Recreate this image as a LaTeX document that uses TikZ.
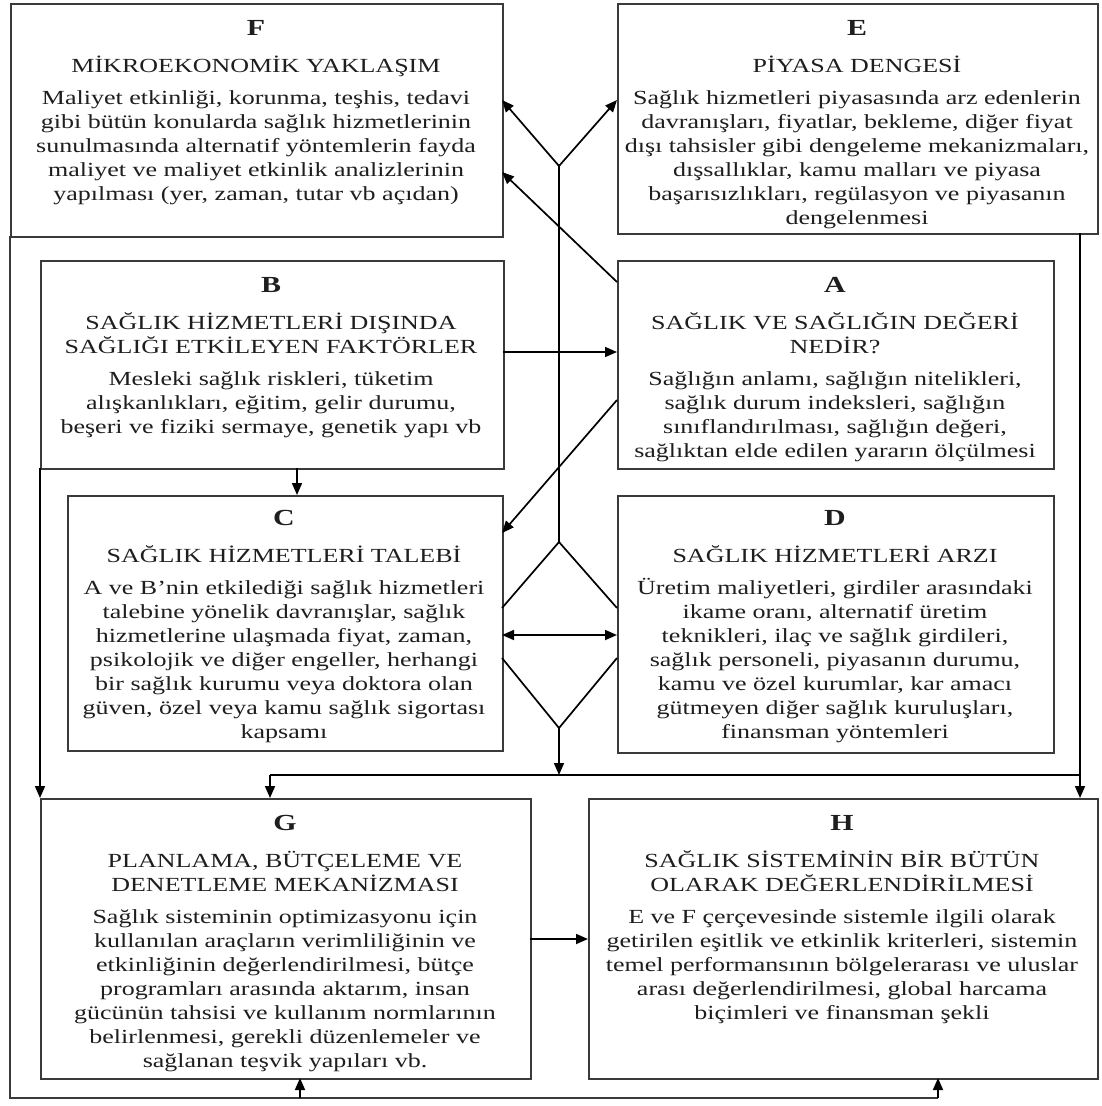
\documentclass[tikz,border=0pt]{standalone}
\usepackage{fontspec}
\setmainfont[FakeStretch=1.3]{Liberation Serif}
\usetikzlibrary{arrows.meta}
\definecolor{boxc}{HTML}{3A3A3A}
\definecolor{textc}{HTML}{1E1E1E}
\begin{document}
\begin{tikzpicture}[x=1pt,y=-1pt,
  box/.style={draw=boxc, line width=1.8pt, inner sep=0pt, anchor=north west},
  txt/.style={align=center, anchor=north, inner sep=0pt, text=textc, font=\fontsize{20}{24}\selectfont},
  conn/.style={line width=1.7pt, draw=black},
  arr/.style={conn, -{Triangle[length=12pt,width=10pt]}},
  darr/.style={conn, {Triangle[length=12pt,width=10pt]}-{Triangle[length=12pt,width=10pt]}}]
\useasboundingbox (0,0) rectangle (1102,1106);
\fill[white] (0,0) rectangle (1102,1106);
\newcommand{\lt}[1]{{\fontsize{23}{24}\selectfont\bfseries #1}\\[13pt]}
% boxes
\node[box, minimum width=492pt, minimum height=233pt] (F) at (10,3) {};
\node[box, minimum width=480pt, minimum height=230pt] (E) at (617,3) {};
\node[box, minimum width=463pt, minimum height=208pt] (B) at (40,260) {};
\node[box, minimum width=436pt, minimum height=208pt] (A) at (617,260) {};
\node[box, minimum width=435pt, minimum height=255pt] (C) at (67,495) {};
\node[box, minimum width=436pt, minimum height=257pt] (D) at (617,495) {};
\node[box, minimum width=490pt, minimum height=280pt] (G) at (40,798) {};
\node[box, minimum width=509pt, minimum height=280pt] (H) at (588,798) {};
% texts
\node[txt] (Ft) at (256,20) {\lt{F}M\.IKROEKONOM\.IK YAKLAŞIM\\[8pt]
Maliyet etkinliği, korunma, teşhis, tedavi\\
gibi bütün konularda sağlık hizmetlerinin\\
sunulmasında alternatif yöntemlerin fayda\\
maliyet ve maliyet etkinlik analizlerinin\\
yapılması (yer, zaman, tutar vb açıdan)};
\node[txt] (Et) at (857,20) {\lt{E}P\.IYASA DENGES\.I\\[8pt]
Sağlık hizmetleri piyasasında arz edenlerin\\
davranışları, fiyatlar, bekleme, diğer fiyat\\
dışı tahsisler gibi dengeleme mekanizmaları,\\
dışsallıklar, kamu malları ve piyasa\\
başarısızlıkları, regülasyon ve piyasanın\\
dengelenmesi};
\node[txt] (Bt) at (271,277) {\lt{B}SAĞLIK H\.IZMETLER\.I DIŞINDA\\
SAĞLIĞI ETK\.ILEYEN FAKTÖRLER\\[8pt]
Mesleki sağlık riskleri, tüketim\\
alışkanlıkları, eğitim, gelir durumu,\\
beşeri ve fiziki sermaye, genetik yapı vb};
\node[txt] (At) at (835,277) {\lt{A}SAĞLIK VE SAĞLIĞIN DEĞER\.I\\
NED\.IR?\\[8pt]
Sağlığın anlamı, sağlığın nitelikleri,\\
sağlık durum indeksleri, sağlığın\\
sınıflandırılması, sağlığın değeri,\\
sağlıktan elde edilen yararın ölçülmesi};
\node[txt] (Ct) at (284,510) {\lt{C}SAĞLIK H\.IZMETLER\.I TALEB\.I\\[8pt]
A ve B’nin etkilediği sağlık hizmetleri\\
talebine yönelik davranışlar, sağlık\\
hizmetlerine ulaşmada fiyat, zaman,\\
psikolojik ve diğer engeller, herhangi\\
bir sağlık kurumu veya doktora olan\\
güven, özel veya kamu sağlık sigortası\\
kapsamı};
\node[txt] (Dt) at (835,510) {\lt{D}SAĞLIK H\.IZMETLER\.I ARZI\\[8pt]
Üretim maliyetleri, girdiler arasındaki\\
ikame oranı, alternatif üretim\\
teknikleri, ilaç ve sağlık girdileri,\\
sağlık personeli, piyasanın durumu,\\
kamu ve özel kurumlar, kar amacı\\
gütmeyen diğer sağlık kuruluşları,\\
finansman yöntemleri};
\node[txt] (Gt) at (285,815) {\lt{G}PLANLAMA, BÜTÇELEME VE\\
DENETLEME MEKAN\.IZMASI\\[8pt]
Sağlık sisteminin optimizasyonu için\\
kullanılan araçların verimliliğinin ve\\
etkinliğinin değerlendirilmesi, bütçe\\
programları arasında aktarım, insan\\
gücünün tahsisi ve kullanım normlarının\\
belirlenmesi, gerekli düzenlemeler ve\\
sağlanan teşvik yapıları vb.};
\node[txt] (Ht) at (842,815) {\lt{H}SAĞLIK S\.ISTEM\.IN\.IN B\.IR BÜTÜN\\
OLARAK DEĞERLEND\.IR\.ILMES\.I\\[8pt]
E ve F çerçevesinde sistemle ilgili olarak\\
getirilen eşitlik ve etkinlik kriterleri, sistemin\\
temel performansının bölgelerarası ve uluslar\\
arası değerlendirilmesi, global harcama\\
biçimleri ve finansman şekli};
% connection points
\coordinate (J) at (559,166);
\coordinate (Ftop) at (502,100);
\coordinate (Etop) at (617,100);
\coordinate (Fmid) at (502,172);
\coordinate (Acorner) at (617,282);
\coordinate (Bout) at (503,352);
\coordinate (Ain) at (617,352);
\coordinate (Aout) at (617,400);
\coordinate (Cin) at (502,533);
\coordinate (Dtop) at (559,542);
\coordinate (Cul) at (502,608);
\coordinate (Dur) at (617,608);
\coordinate (Cll) at (502,658);
\coordinate (Dlr) at (617,658);
\coordinate (Dbot) at (559,728);
\coordinate (Cd) at (502,635);
\coordinate (Dd) at (617,635);
\coordinate (M) at (559,775);
\coordinate (Mleft) at (270,775);
\coordinate (Mright) at (1080,775);
\coordinate (Gin) at (270,798);
\coordinate (Eout) at (1080,233);
\coordinate (Hin) at (1080,798);
\coordinate (Bbot) at (297,468);
\coordinate (Ctop) at (297,495);
\coordinate (Bll) at (40,468);
\coordinate (Gul) at (40,798);
\coordinate (Fll) at (10,236);
\coordinate (Lcorner) at (10,1098);
\coordinate (Rcorner) at (938,1098);
\coordinate (Gb) at (300,1098);
\coordinate (Gbin) at (300,1078);
\coordinate (Hbin) at (938,1078);
\coordinate (Gr) at (530,939);
\coordinate (Hl) at (588,939);
% connectors
\draw[arr] (J) -- (Ftop);
\draw[arr] (J) -- (Etop);
\draw[arr] (Acorner) -- (Fmid);
\draw[conn] (J) -- (Dtop);
\draw[arr] (Bout) -- (Ain);
\draw[arr] (Aout) -- (Cin);
\draw[conn] (Cul) -- (Dtop) -- (Dur);
\draw[conn] (Cll) -- (Dbot) -- (Dlr);
\draw[darr] (Cd) -- (Dd);
\draw[arr] (Dbot) -- (M);
\draw[conn] (Mleft) -- (Mright);
\draw[arr] (Mleft) -- (Gin);
\draw[arr] (Eout) -- (Hin);
\draw[arr] (Bbot) -- (Ctop);
\draw[arr] (Bll) -- (Gul);
\draw[conn,draw=boxc,line width=1.8pt] (Fll) -- (Lcorner) -- (Rcorner);
\draw[arr] (Gb) -- (Gbin);
\draw[arr] (Rcorner) -- (Hbin);
\draw[arr] (Gr) -- (Hl);
\end{tikzpicture}
\end{document}
